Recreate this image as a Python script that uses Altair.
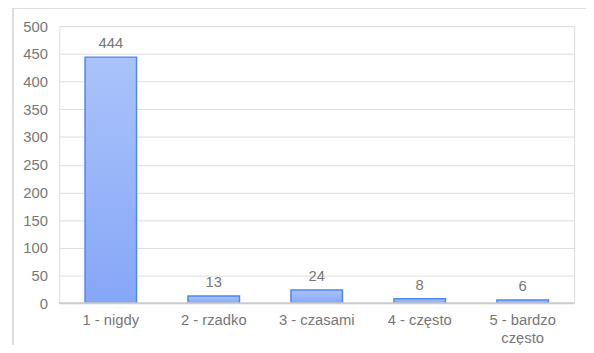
import altair as alt
import pandas as pd

categories = ["1 - nigdy", "2 - rzadko", "3 - czasami", "4 - często", "5 - bardzo często"]
values = [444, 13, 24, 8, 6]
y_ticks = [0, 50, 100, 150, 200, 250, 300, 350, 400, 450, 500]

df = pd.DataFrame({"cat": categories, "val": values})

FONT = "Liberation Sans"
GRAY = "#777777"

x_enc = alt.X(
    "cat:N",
    sort=categories,
    title=None,
    scale=alt.Scale(paddingInner=0.5, paddingOuter=0.25),
    axis=alt.Axis(
        labelAngle=0,
        ticks=False,
        domain=False,
        labelColor=GRAY,
        labelFont=FONT,
        labelFontSize=15,
        labelPadding=10,
        labelLineHeight=18,
        labelExpr="datum.value == '5 - bardzo często' ? ['5 - bardzo', 'często'] : datum.value",
    ),
)
y_enc = alt.Y(
    "val:Q",
    title=None,
    scale=alt.Scale(domain=[0, 500], nice=False),
    axis=alt.Axis(
        values=y_ticks,
        ticks=False,
        domain=False,
        labelOverlap=False,
        labelColor=GRAY,
        labelFont=FONT,
        labelFontSize=15,
        labelPadding=12,
        gridColor="#dcdcdc",
        gridWidth=1,
    ),
)

bars = alt.Chart(df).mark_bar(
    color=alt.Gradient(
        gradient="linear",
        stops=[
            alt.GradientStop(color="#aac3fa", offset=0),
            alt.GradientStop(color="#86a7f8", offset=1),
        ],
        x1=0, x2=0, y1=0, y2=1,
    ),
    stroke="#4d87f2",
    strokeWidth=1.5,
).encode(x=x_enc, y=y_enc)

labels = alt.Chart(df).mark_text(
    baseline="alphabetic",
    dy=-9,
    font=FONT,
    fontSize=15,
    color=GRAY,
).encode(x=x_enc, y=y_enc, text="val:Q")

baseline = alt.Chart(df).mark_rule(color="#cccccc").encode(
    x=alt.value(0), x2=alt.value(522), y=alt.value(281)
)

border_left = alt.Chart(df).mark_rule(color="#dddddd", strokeWidth=1.5).encode(
    x=alt.value(-47), y=alt.value(-18), y2=alt.value(330)
)
border_top = alt.Chart(df).mark_rule(color="#dddddd", strokeWidth=1.5).encode(
    x=alt.value(-47), x2=alt.value(540), y=alt.value(-18)
)

chart = (
    alt.layer(bars, labels, baseline, border_left, border_top)
    .properties(
        width=522,
        height=281,
        autosize=alt.AutoSizeParams(type="none"),
        padding={"left": 52, "top": 16, "right": 12, "bottom": 40},
    )
    .configure_view(stroke=None)
    .configure(background="white")
)

chart.save("out.html", embed_options={"renderer": "svg", "actions": False})
